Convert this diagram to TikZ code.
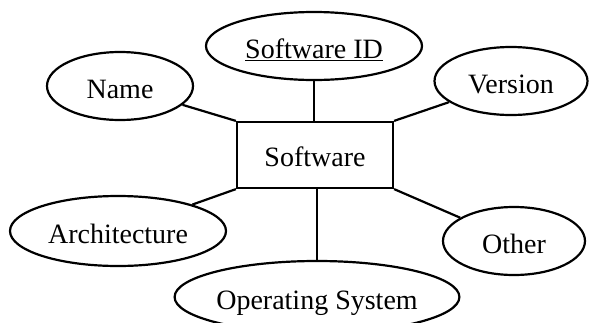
\documentclass[tikz,border=0pt]{standalone}
\usepackage{fontspec}
\setmainfont{Liberation Serif}
\usetikzlibrary{shapes.geometric}
\begin{document}
\begin{tikzpicture}[x=1pt,y=-1pt,
  line width=2.2pt,
  attr/.style={draw, ellipse, inner sep=0pt, font=\fontsize{28}{31}\selectfont,
               text height=25pt, text depth=0pt},
  entity/.style={draw, rectangle, inner sep=0pt, minimum width=156pt, minimum height=66pt,
               font=\fontsize{28}{31}\selectfont, text height=22pt, text depth=0pt},
  link/.style={line width=2.2pt}]
  \useasboundingbox (0,0) rectangle (590,322);

  % central entity
  \node[entity] (sw) at (315,155) {Software};

  % attributes
  \node[attr, minimum width=216pt, minimum height=68pt] (sid) at (314,46) {\underline{Software ID}};
  \node[attr, minimum width=146pt, minimum height=68pt] (name) at (120,86) {Name};
  \node[attr, minimum width=153pt, minimum height=68pt] (ver) at (511,81) {Version};
  \node[attr, minimum width=216pt, minimum height=70pt] (arch) at (118,231) {Architecture};
  \node[attr, minimum width=142pt, minimum height=68pt] (oth) at (514,241) {Other};
  \node[attr, minimum width=280pt, minimum height=72pt] (os) at (317,297) {Operating System};

  % connectors
  \draw[link] (name) -- (sw.north west);
  \draw[link] (ver) -- (sw.north east);
  \draw[link] (arch) -- (sw.south west);
  \draw[link] (oth) -- (sw.south east);
  \draw[link] (sid.south) -- (sid.south |- sw.north);
  \draw[link] (os.north) -- (os.north |- sw.south);
\end{tikzpicture}
\end{document}
